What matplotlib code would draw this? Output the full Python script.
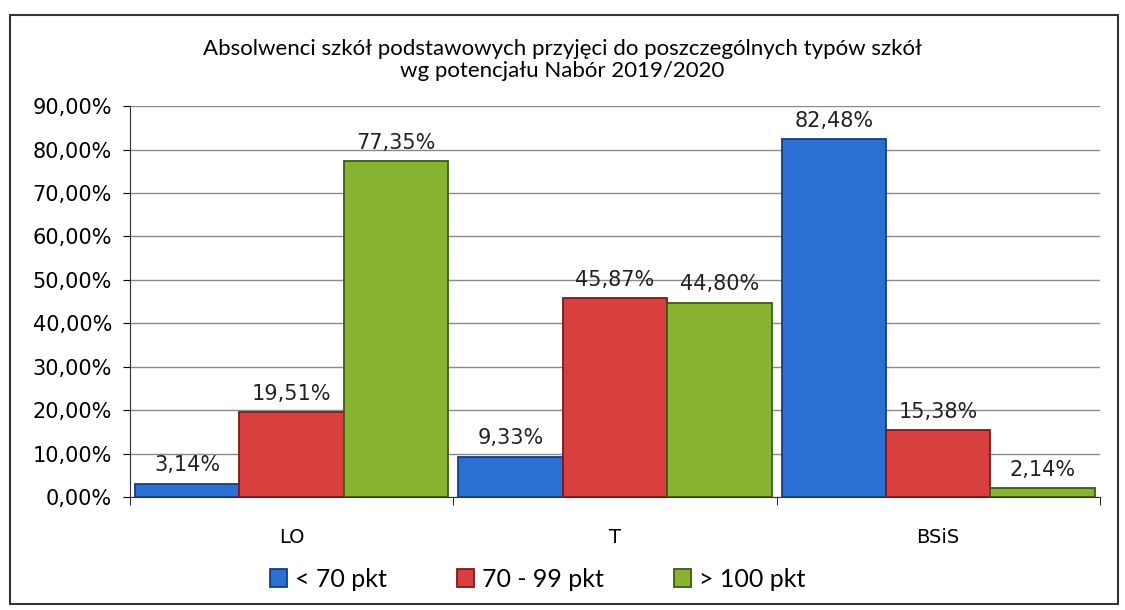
import numpy as np
import matplotlib
matplotlib.use("Agg")
import matplotlib.pyplot as plt
from matplotlib.patches import Rectangle

# data
categories = ["LO", "T", "BSiS"]
series_names = ["< 70 pkt", "70 - 99 pkt", "> 100 pkt"]
below_70 = [3.14, 9.33, 82.48]
from_70_99 = [19.51, 45.87, 15.38]
above_100 = [77.35, 44.80, 2.14]
colors = ["#2c70d4", "#d83f3f", "#88b432"]
edges = ["#163f7e", "#7c1a1a", "#3e5a12"]

title = "Absolwenci szkół podstawowych przyjęci do poszczególnych typów szkół\nwg potencjału Nabór 2019/2020"


def pl_fmt(v, dec=2):
    return f"{v:.{dec}f}".replace(".", ",") + "%"


fig = plt.figure(figsize=(11.25, 6.1), dpi=100)
ax = fig.add_axes([0.1156, 0.185, 0.862, 0.641])

x = np.arange(len(categories))
w = 0.323
all_series = [below_70, from_70_99, above_100]

for i, (vals, name) in enumerate(zip(all_series, series_names)):
    bars = ax.bar(x + (i - 1) * w, vals, width=w, color=colors[i],
                  edgecolor=edges[i], linewidth=1.3, label=name, zorder=3)
    for b, v in zip(bars, vals):
        ax.text(b.get_x() + b.get_width() / 2, v + 1.9, pl_fmt(v),
                ha="center", va="bottom", fontsize=15, color="#222222", zorder=4)

ax.set_xlim(-0.5, 2.5)
ax.set_ylim(0, 90)
ax.set_yticks(np.arange(0, 91, 10))
ax.set_yticklabels([pl_fmt(t) for t in np.arange(0, 91, 10)], fontsize=15)
ax.yaxis.grid(True, color="#8a8a8a", linewidth=1, zorder=0)

ax.set_xticks(x)
ax.set_xticklabels(categories, fontsize=14)
ax.tick_params(axis="x", length=0, pad=22)
# separator ticks between categories
ax.set_xticks([-0.5, 0.5, 1.5, 2.5], minor=True)
ax.tick_params(axis="x", which="minor", length=6, direction="out")
ax.tick_params(axis="y", length=5, direction="out", pad=8)

for s in ["top", "right"]:
    ax.spines[s].set_visible(False)
ax.spines["left"].set_color("#333333")
ax.spines["bottom"].set_color("#333333")

fig.text(0.5, 0.902, title, ha="center", va="center", fontsize=16,
         family="Lato", linespacing=1.15)

ax.legend(loc="center", bbox_to_anchor=(0.42, -0.21), ncol=3, frameon=False,
          prop={"family": "Lato", "size": 18}, handlelength=0.7,
          handleheight=0.7, columnspacing=2.8, handletextpad=0.3)

fig.patches.append(Rectangle((0.009, 0.01), 0.985, 0.965, transform=fig.transFigure,
                             fill=False, edgecolor="#333333", linewidth=1.5))

fig.savefig("out.png", dpi=100)
